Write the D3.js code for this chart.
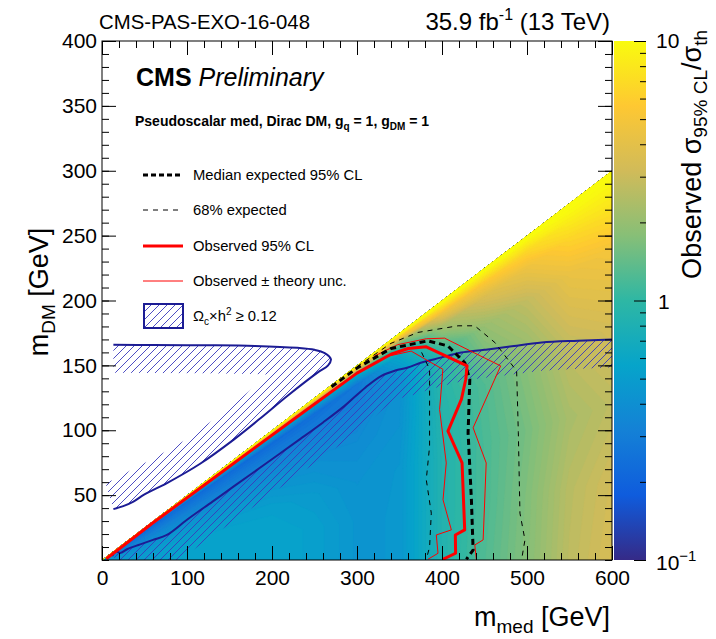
<!DOCTYPE html>
<html><head><meta charset="utf-8">
<script src="https://cdn.jsdelivr.net/npm/d3@7"></script>
<style>
body{margin:0;background:#fff}
svg{display:block}
text{font-family:"Liberation Sans",Arial,Helvetica,sans-serif;fill:#000}
</style>
</head><body>
<svg id="chart" width="716" height="639"></svg>
<script>
// ---------------- data ----------------
// grid of mediator masses (GeV)
const medGrid = [0, 50, 100, 150, 200, 250, 300, 350, 400, 450, 500, 550, 600];
// rows: m_DM as a fraction of the kinematic threshold m_med/2
const fracGrid = [0, 0.2, 0.4, 0.6, 0.8, 0.9, 0.95, 0.98, 1.0];
// observed sigma_95%CL / sigma_th, one array per mediator mass (rows follow fracGrid)
const ratioMed0   = [0.45, 0.42, 0.36, 0.30, 0.25, 0.22, 0.5, 4, 12];
const ratioMed50  = [0.50, 0.48, 0.42, 0.35, 0.27, 0.22, 0.5, 4, 12];
const ratioMed100 = [0.55, 0.55, 0.50, 0.40, 0.28, 0.23, 0.5, 4, 12];
const ratioMed150 = [0.56, 0.56, 0.52, 0.42, 0.29, 0.23, 0.5, 4, 12];
const ratioMed200 = [0.56, 0.56, 0.52, 0.42, 0.30, 0.23, 0.5, 4, 12];
const ratioMed250 = [0.52, 0.52, 0.48, 0.40, 0.30, 0.24, 0.5, 4, 12];
const ratioMed300 = [0.44, 0.44, 0.42, 0.38, 0.30, 0.27, 0.6, 4, 12];
const ratioMed350 = [0.45, 0.45, 0.45, 0.42, 0.40, 0.60, 1.4, 5, 12];
const ratioMed400 = [0.85, 0.85, 0.85, 0.90, 1.00, 2.2, 4.5, 8, 12];
const ratioMed450 = [1.25, 1.20, 1.20, 1.25, 2.0, 3.5, 5.5, 8.5, 12];
const ratioMed500 = [1.75, 1.70, 1.60, 1.80, 2.8, 4.5, 6.5, 9, 12];
const ratioMed550 = [2.7, 2.6, 2.3, 2.8, 4.3, 6.5, 8.5, 10, 12];
const ratioMed600 = [3.4, 3.2, 2.7, 3.3, 5.0, 7.5, 9, 10, 12];
const ratioByMed = [ratioMed0, ratioMed50, ratioMed100, ratioMed150, ratioMed200, ratioMed250,
  ratioMed300, ratioMed350, ratioMed400, ratioMed450, ratioMed500, ratioMed550, ratioMed600];

// contours (m_med, m_DM in GeV)
const obsMed = [5, 60, 120, 180, 240, 300, 340, 360, 381.5, 429.5, 428, 422.8, 407, 423.6, 426.7, 415.7, 416, 401];
const obsDM  = [1, 28.7, 57.6, 86.6, 115.4, 144, 158.6, 163, 164.3, 149.6, 139.3, 123.8, 99.3, 74.8, 23.2, 19.3, 5.2, 0.5];
const obsUpMed = [320, 348, 381.5, 403, 469, 436.6, 452, 448.4, 438.6, 440.5];
const obsUpDM  = [157, 166, 170.5, 171, 149.6, 101.9, 74.8, 15.5, 11.6, 0];
const obsDownMed = [336, 363.7, 401, 397.2, 405, 401.2, 411, 393.3, 395.3, 383.4];
const obsDownDM  = [157, 161, 147, 116, 74.8, 46.4, 23.2, 19.3, 5.2, 0.5];
const expMed = [270, 300, 340, 383.4, 407, 426.8, 432.7, 430.7, 434.6, 436.6, 428.7];
const expDM  = [133.5, 148, 163, 168.9, 165, 152, 139.3, 98, 46.4, 7.7, 0.5];
const expUpMed = [300, 340, 371.7, 418.9, 438.5, 462.2, 487.8, 489.8, 491.7, 497.6, 493.7];
const expUpDM  = [149, 167, 175.4, 180.5, 180.5, 167.6, 145.7, 98, 36.1, 15.5, 0.5];
const expDownMed = [376, 385.4, 385.4, 381.5, 387.4, 385.4, 381.5];
const expDownDM  = [160, 147, 87.7, 61.9, 36.1, 10, 0.5];
// relic density Omega_c h^2 = 0.12 curves
const relicAMed = [13.4, 60, 120, 180, 230, 250, 262, 269.3, 266, 253.5, 218, 186, 155, 115, 76.4, 50, 37, 25, 13.4];
const relicADM  = [165.8, 165.7, 165.5, 165, 163.5, 162, 159.5, 154.7, 150, 144.4, 126.4, 109, 92.8, 74, 59.3, 50.5, 45, 41.5, 39.2];
const relicBMed = [12, 16, 22, 30, 45, 60, 76.4, 100, 130, 155, 190, 233.8, 260, 285, 310, 328.3, 345, 359.8, 375, 391.3, 410, 422.8, 450, 480, 517.3, 560, 600];
const relicBDM  = [3, 6.5, 5.5, 8.5, 12, 15.5, 19.3, 31, 45, 56.7, 73, 93.5, 106, 118.6, 133, 141.8, 146, 148.3, 152, 154.7, 158, 159.9, 162, 164.5, 167.6, 169, 170];

// axes / labels
const xTicks = [0, 100, 200, 300, 400, 500, 600];
const yTicks = [50, 100, 150, 200, 250, 300, 350, 400];
const zTicks = [0.1, 1, 10];
const legendLabels = ["Median expected 95% CL", "68% expected", "Observed 95% CL", "Observed \u00b1 theory unc."];
// ROOT kBird palette
const birdColors = ["#352a87", "#0f5cdd", "#1481d6", "#06a4ca", "#2eb7a4", "#87bf77", "#d1bb59", "#fec832", "#f9fb0e"];

// ---------------- drawing ----------------
const svg = d3.select("#chart");
const L = 102, R = 612, T = 41, B = 560;
const x = d3.scaleLinear().domain([0, 600]).range([L, R]);
const y = d3.scaleLinear().domain([0, 400]).range([B, T]);
const z = d3.scaleLog().domain([0.1, 10]).range([B, T]);
const bird = d3.scaleLinear().domain(birdColors.map((c, i) => i / (birdColors.length - 1)))
  .range(birdColors).interpolate(d3.interpolateRgb).clamp(true);
const colorLog = lv => bird((lv + 1) / 2);

const defs = svg.append("defs");
defs.append("clipPath").attr("id", "frameClip").append("rect")
  .attr("x", L).attr("y", T).attr("width", R - L).attr("height", B - T);
defs.append("clipPath").attr("id", "triClip").append("polygon")
  .attr("points", [[x(0), y(0)], [x(600), y(0)], [x(600), y(300)]].map(p => p.join(",")).join(" "));
const pat = defs.append("pattern").attr("id", "hatch").attr("patternUnits", "userSpaceOnUse")
  .attr("width", 8).attr("height", 8);
pat.append("path").attr("d", "M-1,1 l2,-2 M0,8 l8,-8 M7,9 l2,-2")
  .style("stroke", "#3a3abc").style("stroke-width", "0.9px").style("fill", "none");

// heat map via d3.contours on the (m_med, fraction) grid
const nx = medGrid.length, ny = fracGrid.length;
const values = new Array(nx * ny);
for (let j = 0; j < ny; j++) for (let i = 0; i < nx; i++) values[j * nx + i] = Math.log10(ratioByMed[i][j]);
const step = 0.025;
const thresholds = d3.range(-1.3, 1.2, step);
const contours = d3.contours().size([nx, ny]).thresholds(thresholds)(values);
function interpIdx(arr, t) {
  t = Math.max(0, Math.min(arr.length - 1, t));
  const i = Math.min(Math.floor(t), arr.length - 2), f = t - i;
  return arr[i] + (arr[i + 1] - arr[i]) * f;
}
const proj = d3.geoTransform({
  point: function (cx, cy) {
    const med = interpIdx(medGrid, cx - 0.5);
    const fr = interpIdx(fracGrid, cy - 0.5);
    this.stream.point(x(med), y(fr * med / 2));
  }
});
const geo = d3.geoPath(proj);
svg.append("g").attr("clip-path", "url(#triClip)")
  .selectAll("path").data(contours).join("path")
  .attr("d", geo)
  .attr("fill", d => colorLog(Math.max(-1, d.value + step / 2)))
  .attr("stroke", d => colorLog(Math.max(-1, d.value + step / 2)))
  .attr("stroke-width", 0.3);

// hatched relic bands
function toPix(meds, dms) { return meds.map((m, i) => [x(m), y(dms[i])]); }
function band(pts, w) {
  const off = pts.map((p, i) => {
    const a = pts[Math.max(0, i - 1)], b = pts[Math.min(pts.length - 1, i + 1)];
    const dx = b[0] - a[0], dy = b[1] - a[1], len = Math.hypot(dx, dy) || 1;
    return [p[0] - dy / len * w, p[1] + dx / len * w];
  });
  return pts.concat(off.reverse());
}
const gClip = svg.append("g").attr("clip-path", "url(#frameClip)");
const relicA = toPix(relicAMed, relicADM), relicB = toPix(relicBMed, relicBDM);
[relicA, relicB].forEach(pts => {
  gClip.append("path").attr("d", "M" + band(pts, 28).map(p => p.join(",")).join("L") + "Z")
    .attr("fill", "url(#hatch)").attr("stroke", "none");
});
const lineSmooth = d3.line().curve(d3.curveCatmullRom.alpha(0.5));
[relicA, relicB].forEach(pts => {
  gClip.append("path").attr("d", lineSmooth(pts)).attr("fill", "none")
    .attr("stroke", "#1c1c94").attr("stroke-width", 2);
});

// limit contours
const line = d3.line();
function drawC(meds, dms, col, w, dash) {
  gClip.append("path").attr("d", line(toPix(meds, dms))).attr("fill", "none")
    .attr("stroke", col).attr("stroke-width", w).attr("stroke-dasharray", dash || null)
    .attr("stroke-linejoin", "round");
}
drawC(expUpMed, expUpDM, "#000", 1, "5,5");
drawC(expDownMed, expDownDM, "#000", 1, "5,5");
drawC(obsUpMed, obsUpDM, "#ff0000", 1);
drawC(obsDownMed, obsDownDM, "#ff0000", 1);
drawC(expMed, expDM, "#000", 3, "6,4");
drawC(obsMed, obsDM, "#ff0000", 3);

// axes
function styleAxis(g) { g.select(".domain").remove(); g.selectAll("line").attr("stroke", "#000"); }
const fontTick = 21;
svg.append("g").attr("transform", `translate(0,${B})`)
  .call(d3.axisBottom(x).tickValues(d3.range(0, 601, 20)).tickSize(-7).tickFormat(""))
  .call(styleAxis);
svg.append("g").attr("transform", `translate(0,${B})`)
  .call(d3.axisBottom(x).tickValues(xTicks).tickSize(-14).tickPadding(10).tickFormat(d3.format("d")))
  .call(styleAxis)
  .call(g => g.selectAll("text").attr("font-size", fontTick).attr("font-family", "Liberation Sans, Arial").attr("fill", "#000"));
svg.append("g").attr("transform", `translate(0,${T})`)
  .call(d3.axisTop(x).tickValues(d3.range(0, 601, 20)).tickSize(-7).tickFormat(""))
  .call(styleAxis);
svg.append("g").attr("transform", `translate(0,${T})`)
  .call(d3.axisTop(x).tickValues(xTicks).tickSize(-14).tickFormat(""))
  .call(styleAxis);
svg.append("g").attr("transform", `translate(${L},0)`)
  .call(d3.axisLeft(y).tickValues(d3.range(0, 401, 10)).tickSize(-7).tickFormat(""))
  .call(styleAxis);
svg.append("g").attr("transform", `translate(${L},0)`)
  .call(d3.axisLeft(y).tickValues(yTicks).tickSize(-14).tickPadding(5).tickFormat(d3.format("d")))
  .call(styleAxis)
  .call(g => g.selectAll("text").attr("font-size", fontTick).attr("font-family", "Liberation Sans, Arial").attr("fill", "#000"));
svg.append("g").attr("transform", `translate(${R},0)`)
  .call(d3.axisRight(y).tickValues(d3.range(0, 401, 10)).tickSize(-7).tickFormat(""))
  .call(styleAxis);
svg.append("g").attr("transform", `translate(${R},0)`)
  .call(d3.axisRight(y).tickValues(yTicks).tickSize(-14).tickFormat(""))
  .call(styleAxis);
svg.append("rect").attr("x", L).attr("y", T).attr("width", R - L).attr("height", B - T)
  .attr("fill", "none").attr("stroke", "#000").attr("stroke-width", 1);

// colour bar
const CB0 = 614, CB1 = 646;
const grad = defs.append("linearGradient").attr("id", "cbGrad").attr("x1", 0).attr("y1", 1).attr("x2", 0).attr("y2", 0);
birdColors.forEach((c, i) => grad.append("stop").attr("offset", i / (birdColors.length - 1)).attr("stop-color", c));
svg.append("rect").attr("x", CB0).attr("y", z(10)).attr("width", CB1 - CB0).attr("height", z(0.1) - z(10))
  .attr("fill", "url(#cbGrad)");
const zMinor = [0.2, 0.3, 0.4, 0.5, 0.6, 0.7, 0.8, 0.9, 2, 3, 4, 5, 6, 7, 8, 9];
svg.append("g").attr("transform", `translate(${CB1},0)`)
  .call(d3.axisRight(z).tickValues(zMinor).tickSize(-6).tickFormat(""))
  .call(g => g.select(".domain").remove());
svg.append("g").attr("transform", `translate(${CB1},0)`)
  .call(d3.axisRight(z).tickValues(zTicks).tickSize(-12).tickFormat(""))
  .call(g => g.select(".domain").remove());
const zl = svg.append("g").attr("font-size", fontTick);
zl.append("text").attr("x", 656).attr("y", z(10) + 7).text("10");
zl.append("text").attr("x", 658).attr("y", z(1) + 8).text("1");
const zlm = zl.append("text").attr("x", 656).attr("y", z(0.1) + 10);
zlm.append("tspan").text("10");
zlm.append("tspan").attr("dy", -9).attr("font-size", 15).text("\u22121");

// axis titles
const xt = svg.append("text").attr("x", 610).attr("y", 626).attr("text-anchor", "end").attr("font-size", 27);
xt.append("tspan").text("m");
xt.append("tspan").attr("dy", 7).attr("font-size", 19).text("med");
xt.append("tspan").attr("dy", -7).text(" [GeV]");
const yt = svg.append("text").attr("transform", "translate(48,292) rotate(-90)").attr("text-anchor", "middle").attr("font-size", 27);
yt.append("tspan").text("m");
yt.append("tspan").attr("dy", 7).attr("font-size", 19).text("DM");
yt.append("tspan").attr("dy", -7).text(" [GeV]");
const zt = svg.append("text").attr("transform", "translate(701,30) rotate(-90)").attr("text-anchor", "end").attr("font-size", 27);
zt.append("tspan").text("Observed \u03c3");
zt.append("tspan").attr("dy", 6).attr("font-size", 19).text("95% CL");
zt.append("tspan").attr("dy", -6).text("/\u03c3");
zt.append("tspan").attr("dy", 6).attr("font-size", 19).text("th");

// header
svg.append("text").attr("x", 99).attr("y", 29).attr("font-family", "DejaVu Sans Mono").attr("font-size", 21)
  .attr("textLength", 211).attr("lengthAdjust", "spacingAndGlyphs").text("CMS-PAS-EXO-16-048");
const lumi = svg.append("text").attr("x", 610).attr("y", 30).attr("text-anchor", "end").attr("font-size", 24);
lumi.append("tspan").text("35.9 fb");
lumi.append("tspan").attr("dy", -10).attr("font-size", 16).text("-1");
lumi.append("tspan").attr("dy", 10).text(" (13 TeV)");

// labels inside frame
const cms = svg.append("text").attr("x", 136).attr("y", 86).attr("font-size", 25);
cms.append("tspan").attr("font-weight", "bold").text("CMS");
cms.append("tspan").attr("font-style", "italic").text(" Preliminary");
const model = svg.append("text").attr("x", 135).attr("y", 126).attr("font-size", 14).attr("font-weight", "bold");
model.append("tspan").text("Pseudoscalar med, Dirac DM, g");
model.append("tspan").attr("dy", 4).attr("font-size", 10).text("q");
model.append("tspan").attr("dy", -4).text(" = 1, g");
model.append("tspan").attr("dy", 4).attr("font-size", 10).text("DM");
model.append("tspan").attr("dy", -4).text(" = 1");

// legend
const legY = [175, 210, 246, 281];
const legStyles = [["#000", 3, "5,3"], ["#000", 1, "5,5"], ["#ff0000", 3, null], ["#ff0000", 1, null]];
legendLabels.forEach((lab, i) => {
  svg.append("line").attr("x1", 143).attr("x2", 183).attr("y1", legY[i]).attr("y2", legY[i])
    .attr("stroke", legStyles[i][0]).attr("stroke-width", legStyles[i][1]).attr("stroke-dasharray", legStyles[i][2]);
  svg.append("text").attr("x", 193).attr("y", legY[i] + 5).attr("font-size", 14.8).text(lab);
});
svg.append("rect").attr("x", 144).attr("y", 304).attr("width", 39).attr("height", 24)
  .attr("fill", "url(#hatch)").attr("stroke", "#1c1c94").attr("stroke-width", 2);
const om = svg.append("text").attr("x", 193).attr("y", 321).attr("font-size", 14.8);
om.append("tspan").text("\u03a9");
om.append("tspan").attr("dy", 4).attr("font-size", 10).text("c");
om.append("tspan").attr("dy", -4).text("\u00d7h");
om.append("tspan").attr("dy", -6).attr("font-size", 10).text("2");
om.append("tspan").attr("dy", 6).text(" \u2265 0.12");
</script>
</body></html>
